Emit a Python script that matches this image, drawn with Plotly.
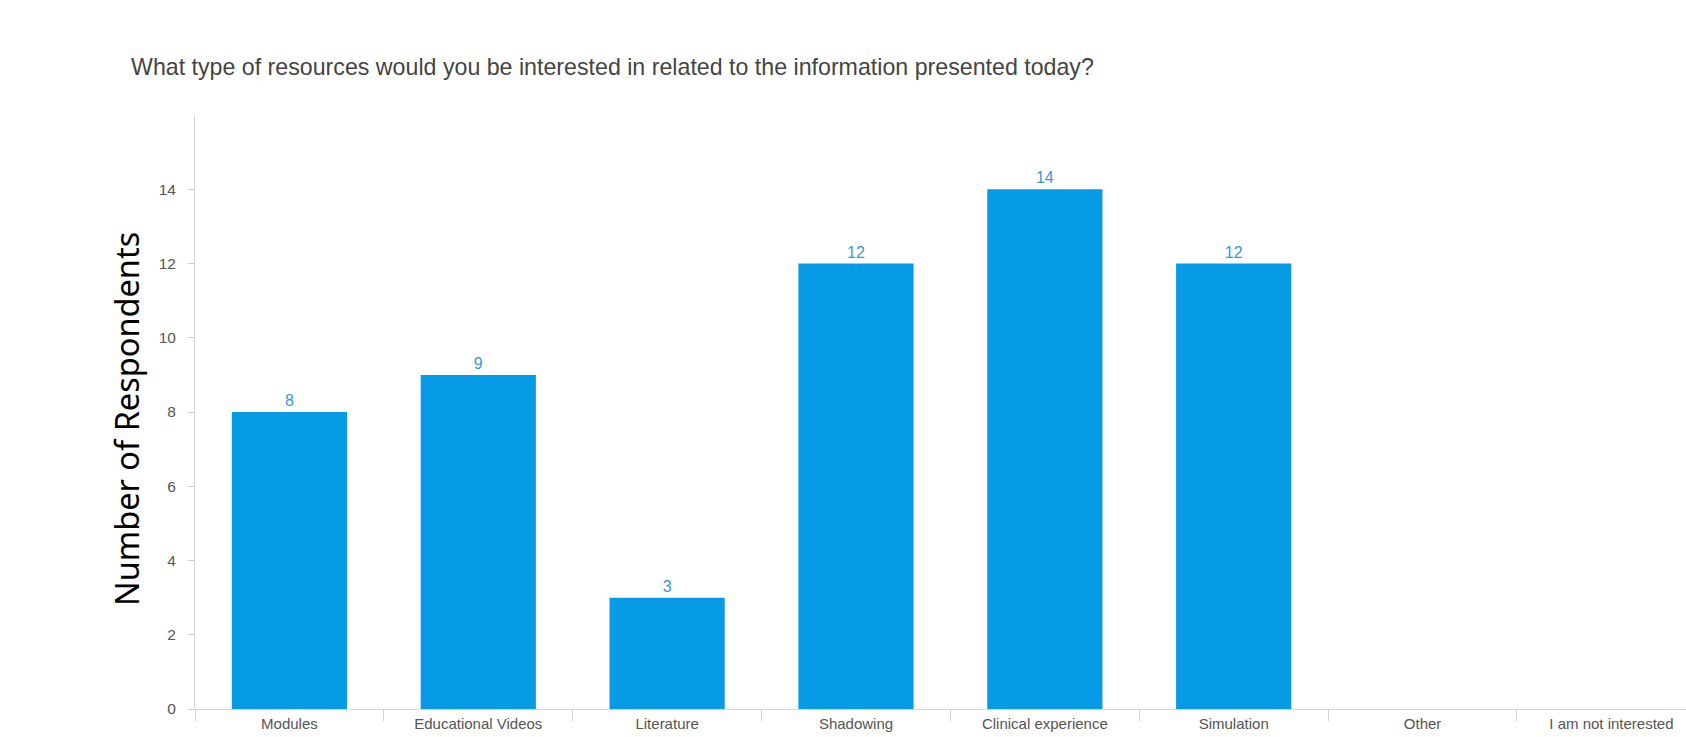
import plotly.graph_objects as go

categories = ["Modules", "Educational Videos", "Literature", "Shadowing",
              "Clinical experience", "Simulation", "Other", "I am not interested"]
counts = [8, 9, 3, 12, 14, 12, 0, 0]
y_ticks = [0, 2, 4, 6, 8, 10, 12, 14]
title_text = "What type of resources would you be interested in related to the information presented today?"
y_title = "Number of Respondents"

W, H = 1686, 737
ml, mr, mt, mb = 195, 0, 115, 28
pw = W - ml - mr
ph = H - mt - mb

labels = [str(v) if v else "" for v in counts]

fig = go.Figure(go.Bar(
    x=categories, y=counts, text=labels, textposition="outside",
    marker=dict(color="#069be4", line=dict(width=0)),
    textfont=dict(family="Liberation Sans, Arial, sans-serif", size=16, color="#3797dc"),
    cliponaxis=False,
))

fig.update_layout(
    width=W, height=H,
    margin=dict(l=ml, r=mr, t=mt, b=mb, autoexpand=False),
    paper_bgcolor="white", plot_bgcolor="white",
    bargap=0.39, showlegend=False,
    font=dict(family="Liberation Sans, Arial, sans-serif"),
)
fig.update_xaxes(
    type="category", range=[-0.5, 7.395], showgrid=False, zeroline=False,
    showline=True, linecolor="#d6d6d6", linewidth=1,
    ticks="outside", tickson="boundaries", ticklen=11, tickcolor="#d0d0d0", tickwidth=1,
    ticklabelstandoff=1,
    tickfont=dict(size=15, color="#555555"),
)
fig.update_yaxes(
    range=[0, 16], tickvals=y_ticks, showgrid=False, zeroline=False,
    showline=True, linecolor="#d6d6d6", linewidth=1,
    ticks="outside", ticklen=6, tickcolor="#cccccc", tickwidth=1,
    ticklabelstandoff=9,
    tickfont=dict(size=15.5, color="#555555"),
)

fig.add_annotation(
    text=title_text, xref="paper", yref="paper",
    x=(129 - ml) / pw, y=1 + (mt - 67) / ph, xanchor="left", yanchor="middle",
    showarrow=False, font=dict(family="Liberation Sans, Arial, sans-serif", size=23.2, color="#444444"),
)
fig.add_annotation(
    text=y_title, xref="paper", yref="paper",
    x=(126 - ml) / pw, y=(H - mb - 419) / ph, xanchor="center", yanchor="middle",
    textangle=-90, showarrow=False,
    font=dict(family="Noto Sans, sans-serif", size=32.5, color="#000000"),
)

fig.write_html("out.html")
